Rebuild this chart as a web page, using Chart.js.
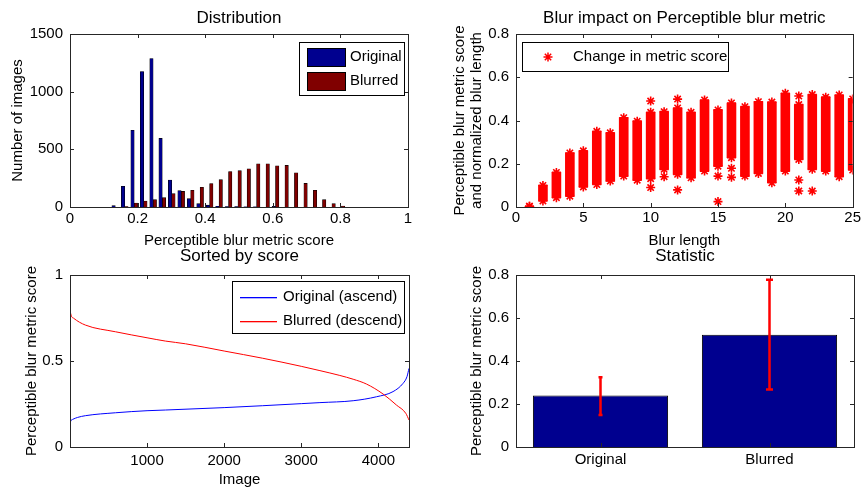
<!DOCTYPE html>
<html>
<head>
<meta charset="utf-8">
<script src="https://cdn.jsdelivr.net/npm/chart.js@4.4.1/dist/chart.umd.min.js"></script>
<style>
  html, body { margin: 0; padding: 0; background: #fff; }
  #wrap { position: relative; width: 863px; height: 493px; overflow: hidden; }
  canvas { position: absolute; }
</style>
</head>
<body>
<div id="wrap">
  <canvas id="dist" width="431" height="250" style="left:0;top:0"></canvas>
  <canvas id="impact" width="432" height="250" style="left:431px;top:0"></canvas>
  <canvas id="sorted" width="431" height="248" style="left:0;top:245px"></canvas>
  <canvas id="stat" width="432" height="248" style="left:431px;top:245px"></canvas>
</div>
<script>
// ---- Distribution: histogram of metric scores ----
var binCenters = [0.134, 0.162, 0.190, 0.218, 0.246, 0.273, 0.301, 0.329, 0.357, 0.385, 0.413, 0.441, 0.469,
                  0.497, 0.524, 0.552, 0.580, 0.608, 0.636, 0.664, 0.692, 0.720, 0.747, 0.775, 0.803];
var originalCounts = [12, 180, 665, 1175, 1287, 595, 234, 142, 72, 29, 16, 6, 4, 3, 2, 1, 0, 5, 0, 0, 0, 0, 0, 0, 0];
var blurredCounts = [0, 3, 35, 52, 64, 81, 116, 135, 145, 171, 203, 237, 308, 315, 332, 375, 375, 358, 361, 297, 205, 145, 64, 29, 8];
var distXTicks = [0, 0.2, 0.4, 0.6, 0.8, 1];
var distYTicks = [0, 500, 1000, 1500];

// ---- Blur impact: score spread per blur length (dense columns + stray points) ----
var blurLength = [1, 2, 3, 4, 5, 6, 7, 8, 9, 10, 11, 12, 13, 14, 15, 16, 17, 18, 19, 20, 21, 22, 23, 24, 25];
var scoreHigh = [0.003, 0.100, 0.160, 0.250, 0.260, 0.350, 0.343, 0.413, 0.397, 0.438, 0.441, 0.458, 0.438,
                 0.495, 0.449, 0.481, 0.464, 0.487, 0.485, 0.526, 0.474, 0.520, 0.508, 0.518, 0.500];
var scoreLow = [0.003, 0.028, 0.043, 0.050, 0.093, 0.104, 0.120, 0.143, 0.124, 0.131, 0.174, 0.151, 0.135,
                0.166, 0.189, 0.228, 0.143, 0.155, 0.112, 0.166, 0.220, 0.174, 0.166, 0.140, 0.171];
var strayLength = [10, 12, 21, 10, 11, 12, 15, 15, 16, 16, 21, 21, 22];
var strayScore = [0.490, 0.499, 0.513, 0.090, 0.140, 0.079, 0.143, 0.025, 0.179, 0.137, 0.125, 0.074, 0.074];
var impactXTicks = [0, 5, 10, 15, 20, 25];
var impactYTicks = [0, 0.2, 0.4, 0.6, 0.8];

// ---- Sorted by score ----
var origIndex = [1, 10, 38, 100, 200, 590, 1000, 1237, 2000, 3000, 3242, 3673, 3975, 4190, 4320, 4371, 4397];
var origSorted = [0.128, 0.150, 0.161, 0.172, 0.182, 0.199, 0.211, 0.215, 0.229, 0.252, 0.258, 0.269, 0.292, 0.322, 0.370, 0.409, 0.457];
var blurIndex = [1, 10, 50, 200, 590, 1000, 1237, 1500, 2000, 2500, 3000, 3242, 3500, 3673, 3846, 4061, 4234, 4355, 4397];
var blurSorted = [0.816, 0.775, 0.748, 0.709, 0.670, 0.635, 0.616, 0.600, 0.558, 0.516, 0.469, 0.444, 0.416, 0.394, 0.366, 0.308, 0.244, 0.196, 0.157];
var sortedXTicks = [1000, 2000, 3000, 4000];
var sortedYTicks = [0, 0.5, 1];

// ---- Statistic: mean with spread ----
var statLabels = ['Original', 'Blurred'];
var statMean = [0.239, 0.522];
var statLow = [0.149, 0.268];
var statHigh = [0.324, 0.778];
var statYTicks = [0, 0.2, 0.4, 0.6, 0.8];

var FONT = "'Liberation Sans', Arial, Helvetica, sans-serif";
var NAVY = '#00008f', MAROON = '#800000', RED = '#ff0000', BLUE = '#0000ff';

Chart.defaults.font.family = FONT;
Chart.defaults.font.size = 15;
Chart.defaults.color = '#000';

// matlab-style box with inward ticks on all four sides
var frame = {
  id: 'frame',
  afterDatasetsDraw: function (chart) {
    var ctx = chart.ctx, a = chart.chartArea, x = chart.scales.x, y = chart.scales.y, L = 4;
    ctx.save();
    ctx.strokeStyle = '#262626';
    ctx.lineWidth = 1;
    ctx.beginPath();
    x.ticks.forEach(function (t, i) {
      var px = Math.round(x.getPixelForTick(i)) + 0.5;
      ctx.moveTo(px, a.bottom); ctx.lineTo(px, a.bottom - L);
      ctx.moveTo(px, a.top); ctx.lineTo(px, a.top + L);
    });
    y.ticks.forEach(function (t, i) {
      var py = Math.round(y.getPixelForTick(i)) + 0.5;
      ctx.moveTo(a.left, py); ctx.lineTo(a.left + L, py);
      ctx.moveTo(a.right, py); ctx.lineTo(a.right - L, py);
    });
    ctx.stroke();
    ctx.strokeRect(Math.round(a.left) + 0.5, Math.round(a.top) + 0.5, Math.round(a.width), Math.round(a.height));
    ctx.restore();
  }
};

var panelTitle = {
  id: 'panelTitle',
  afterDraw: function (chart, args, o) {
    if (!o.text) return;
    var ctx = chart.ctx, a = chart.chartArea;
    ctx.save();
    ctx.font = '17px ' + FONT;
    ctx.fillStyle = '#000';
    ctx.textAlign = 'center';
    ctx.textBaseline = 'middle';
    ctx.fillText(o.text, (a.left + a.right) / 2, o.y);
    ctx.restore();
  }
};

function drawStar(ctx, x, y, r) {
  var d = r * Math.SQRT1_2;
  ctx.moveTo(x - r, y); ctx.lineTo(x + r, y);
  ctx.moveTo(x, y - r); ctx.lineTo(x, y + r);
  ctx.moveTo(x - d, y - d); ctx.lineTo(x + d, y + d);
  ctx.moveTo(x - d, y + d); ctx.lineTo(x + d, y - d);
}

// boxed legend placed inside the axes, like matlab's
var boxLegend = {
  id: 'boxLegend',
  afterDraw: function (chart, args, o) {
    if (!o.items) return;
    var ctx = chart.ctx;
    ctx.save();
    ctx.fillStyle = '#fff';
    ctx.fillRect(o.x, o.y, o.w, o.h);
    ctx.strokeStyle = '#000';
    ctx.lineWidth = 1;
    ctx.strokeRect(o.x + 0.5, o.y + 0.5, o.w, o.h);
    ctx.font = '15px ' + FONT;
    ctx.textBaseline = 'middle';
    o.items.forEach(function (it, i) {
      var ds = chart.data.datasets[it.ds], cy = o.rows[i], col = it.swatch;
      if (it.kind === 'rect') {
        ctx.fillStyle = col;
        ctx.fillRect(o.sx0, cy - 9, o.sx1 - o.sx0, 18);
        ctx.strokeStyle = '#000';
        ctx.lineWidth = 1;
        ctx.strokeRect(o.sx0 + 0.5, cy - 8.5, o.sx1 - o.sx0, 18);
      } else if (it.kind === 'line') {
        ctx.fillStyle = col;
        ctx.fillRect(o.sx0, Math.round(cy), o.sx1 - o.sx0, 1.3);
      } else {
        ctx.strokeStyle = col;
        ctx.lineWidth = 1.5;
        ctx.beginPath();
        drawStar(ctx, o.sx0, cy, 4.5);
        ctx.stroke();
      }
      ctx.fillStyle = '#000';
      ctx.fillText(ds.label, o.textX, cy);
    });
    ctx.restore();
  }
};

var errorBars = {
  id: 'errorBars',
  afterDatasetsDraw: function (chart, args, o) {
    if (!o.hi) return;
    var ctx = chart.ctx, y = chart.scales.y;
    ctx.save();
    ctx.strokeStyle = o.stroke;
    ctx.lineWidth = 2.5;
    ctx.beginPath();
    chart.getDatasetMeta(0).data.forEach(function (bar, i) {
      var top = y.getPixelForValue(o.hi[i]), bot = y.getPixelForValue(o.lo[i]), c = o.cap[i];
      ctx.moveTo(bar.x, top); ctx.lineTo(bar.x, bot);
      ctx.moveTo(bar.x - c, top); ctx.lineTo(bar.x + c, top);
      ctx.moveTo(bar.x - c, bot); ctx.lineTo(bar.x + c, bot);
    });
    ctx.stroke();
    ctx.restore();
  }
};

function axis(o) {
  var horiz = o.axis === 'x';
  var cfg = {
    type: o.type || 'linear',
    min: o.min, max: o.max, offset: !!o.offset,
    grid: { display: false, drawTicks: false },
    border: { display: false },
    ticks: { padding: o.pad, color: '#000', font: { size: 15 }, autoSkip: false, maxRotation: 0 },
    title: o.title ? {
      display: true, text: o.title, color: '#000',
      font: { size: 15, lineHeight: o.lh || 1.2 },
      padding: horiz ? { top: 0, bottom: o.titlePad } : { top: o.titlePad, bottom: 0 }
    } : { display: false }
  };
  if (o.ticksAt) {
    cfg.afterBuildTicks = function (s) { s.ticks = o.ticksAt.map(function (v) { return { value: v }; }); };
    cfg.ticks.callback = function (v) { return String(v); };
  }
  cfg.afterFit = horiz ? function (s) { s.height = o.size; } : function (s) { s.width = o.size; };
  return cfg;
}

function makeChart(id, type, data, o) {
  return new Chart(document.getElementById(id), {
    type: type,
    data: data,
    plugins: [frame, errorBars, boxLegend, panelTitle],
    options: {
      responsive: false, animation: false, devicePixelRatio: 1, events: [],
      layout: { padding: o.padding },
      plugins: {
        legend: { display: false }, tooltip: { enabled: false },
        panelTitle: o.title, boxLegend: o.legend || {}, errorBars: o.err || {}
      },
      scales: o.scales
    }
  });
}

function pts(xs, ys) { return xs.map(function (x, i) { return { x: x, y: ys[i] }; }); }

// 1. Distribution
makeChart('dist', 'bar', {
  datasets: [
    { label: 'Original', data: pts(binCenters, originalCounts), backgroundColor: NAVY, borderColor: '#000', borderWidth: 0.6, barThickness: 3.4 },
    { label: 'Blurred', data: pts(binCenters, blurredCounts), backgroundColor: MAROON, borderColor: '#000', borderWidth: 0.6, barThickness: 3.4 }
  ]
}, {
  padding: { left: 0, top: 34, right: 23, bottom: 0 },
  title: { text: 'Distribution', y: 18 },
  legend: { x: 299, y: 42, w: 105, h: 53, sx0: 307, sx1: 345, textX: 350, rows: [57, 81],
            items: [{ ds: 0, kind: 'rect', swatch: NAVY }, { ds: 1, kind: 'rect', swatch: MAROON }] },
  scales: {
    x: axis({ axis: 'x', min: 0, max: 1, ticksAt: distXTicks, pad: 3, size: 43, title: 'Perceptible blur metric score', titlePad: 0 }),
    y: axis({ axis: 'y', min: 0, max: 1500, ticksAt: distYTicks, pad: 7, size: 70, title: 'Number of images', titlePad: 9 })
  }
});

// 2. Blur impact
var columnData = blurLength.map(function (n, i) { return { x: n, y: [scoreLow[i], scoreHigh[i]] }; });
var starData = pts(blurLength, scoreLow).concat(pts(blurLength, scoreHigh), pts(strayLength, strayScore));
makeChart('impact', 'bar', {
  datasets: [
    { label: 'spread', data: columnData, backgroundColor: RED, borderWidth: 0, barThickness: 9 },
    { type: 'scatter', label: 'Change in metric score', data: starData, pointStyle: 'star',
      radius: 4.5, borderWidth: 1.6, borderColor: RED, backgroundColor: RED }
  ]
}, {
  padding: { left: 0, top: 34, right: 9, bottom: 0 },
  title: { text: 'Blur impact on Perceptible blur metric', y: 18 },
  legend: { x: 91, y: 42, w: 206, h: 29, sx0: 117, sx1: 117, textX: 142, rows: [57],
            items: [{ ds: 1, kind: 'star', swatch: RED }] },
  scales: {
    x: axis({ axis: 'x', min: 0, max: 25, ticksAt: impactXTicks, pad: 2, size: 43, title: 'Blur length', titlePad: 0 }),
    y: axis({ axis: 'y', min: 0, max: 0.8, ticksAt: impactYTicks, pad: 7, size: 85, lh: 1.133,
              title: ['Perceptible blur metric score', 'and normalized blur length'], titlePad: 20.5 })
  }
});

// 3. Sorted by score
makeChart('sorted', 'line', {
  datasets: [
    { label: 'Original (ascend)', data: pts(origIndex, origSorted), borderColor: BLUE, borderWidth: 1,
      pointRadius: 0, cubicInterpolationMode: 'monotone', order: 1 },
    { label: 'Blurred (descend)', data: pts(blurIndex, blurSorted), borderColor: RED, borderWidth: 1,
      pointRadius: 0, cubicInterpolationMode: 'monotone', order: 0 }
  ]
}, {
  padding: { left: 0, top: 30, right: 22, bottom: 0 },
  title: { text: 'Sorted by score', y: 11 },
  legend: { x: 232, y: 36, w: 172, h: 52, sx0: 240, sx1: 277, textX: 283, rows: [51.5, 76],
            items: [{ ds: 0, kind: 'line', swatch: BLUE }, { ds: 1, kind: 'line', swatch: RED }] },
  scales: {
    x: axis({ axis: 'x', min: 1, max: 4397, ticksAt: sortedXTicks, pad: 4.5, size: 46, title: 'Image', titlePad: 4 }),
    y: axis({ axis: 'y', min: 0, max: 1, ticksAt: sortedYTicks, pad: 7, size: 70, title: 'Perceptible blur metric score', titlePad: 23 })
  }
});

// 4. Statistic
makeChart('stat', 'bar', {
  labels: statLabels,
  datasets: [
    { label: 'mean', data: statMean, backgroundColor: NAVY, borderColor: '#000', borderWidth: 1,
      barPercentage: 0.8, categoryPercentage: 1 }
  ]
}, {
  padding: { left: 0, top: 30, right: 9, bottom: 0 },
  title: { text: 'Statistic', y: 11 },
  err: { lo: statLow, hi: statHigh, cap: [2, 3.5], stroke: RED },
  scales: {
    x: axis({ axis: 'x', type: 'category', offset: true, pad: 4, size: 46 }),
    y: axis({ axis: 'y', min: 0, max: 0.8, ticksAt: statYTicks, pad: 7, size: 85, title: 'Perceptible blur metric score', titlePad: 37 })
  }
});
</script>
</body>
</html>
